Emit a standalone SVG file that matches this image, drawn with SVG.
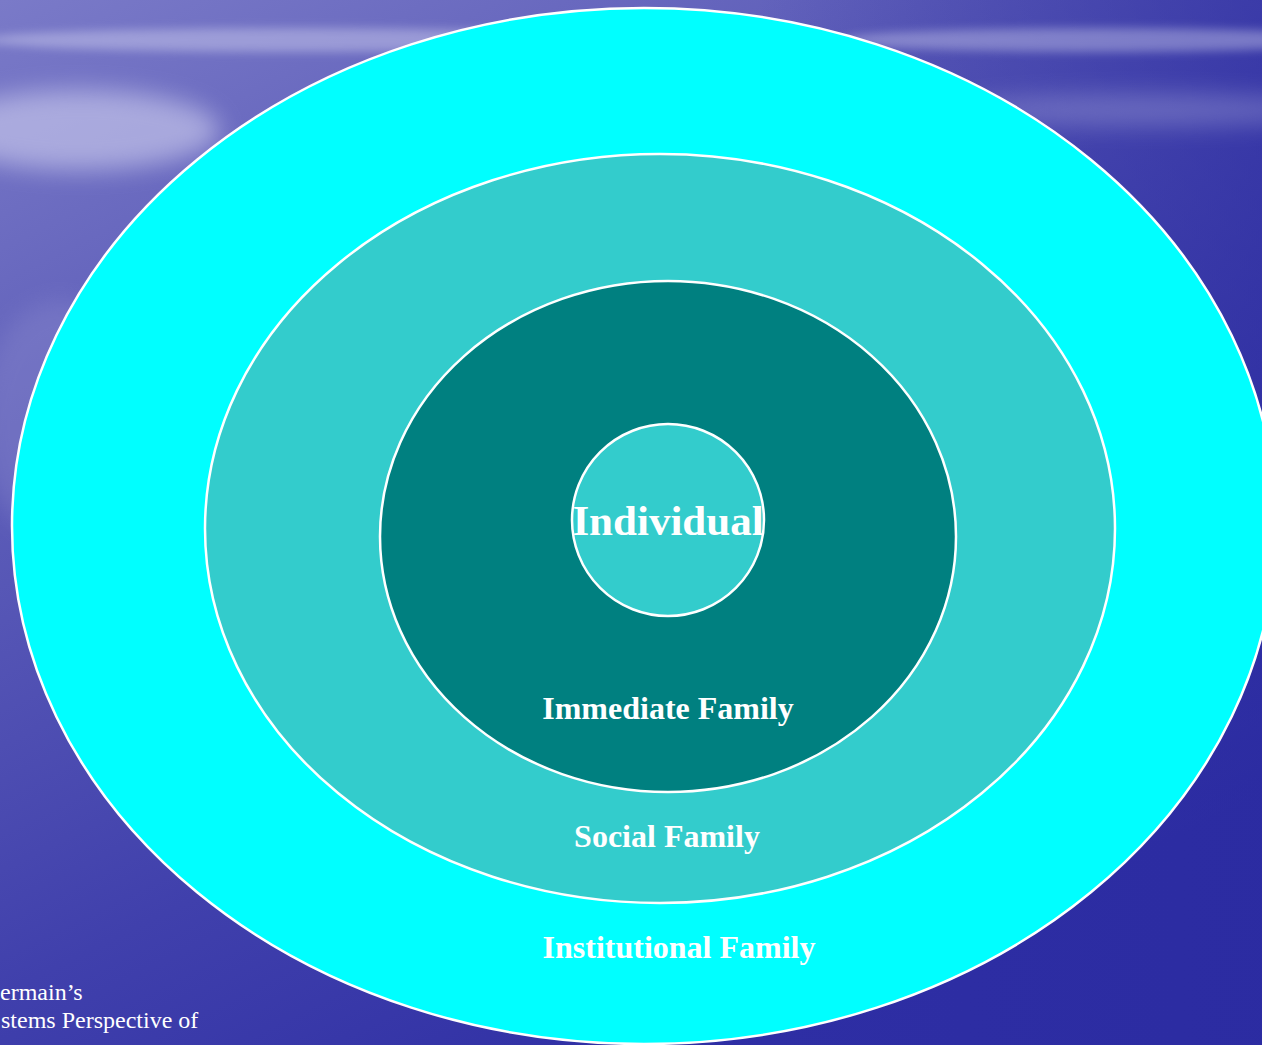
<svg xmlns="http://www.w3.org/2000/svg" width="1262" height="1045" viewBox="0 0 1262 1045">
  <defs>
    <linearGradient id="bg" x1="0" y1="0" x2="0.6" y2="1">
      <stop offset="0" stop-color="#7a7ac8"/>
      <stop offset="0.35" stop-color="#5c5cb8"/>
      <stop offset="0.7" stop-color="#4040ac"/>
      <stop offset="1" stop-color="#2e2ea4"/>
    </linearGradient>
    <linearGradient id="rightdark" x1="0" y1="0" x2="1" y2="0">
      <stop offset="0.6" stop-color="#2a2aa0" stop-opacity="0"/>
      <stop offset="1" stop-color="#2a2aa0" stop-opacity="0.6"/>
    </linearGradient>
    <filter id="blur" x="-20%" y="-200%" width="140%" height="500%">
      <feGaussianBlur stdDeviation="12"/>
    </filter>
    <filter id="blur2" x="-20%" y="-200%" width="140%" height="500%">
      <feGaussianBlur stdDeviation="5"/>
    </filter>
    <style>
      .ring { stroke: #ffffff; stroke-width: 2.5; }
      .lbl { font-family: "Liberation Serif", "Times New Roman", serif; font-weight: bold; fill: #ffffff; text-anchor: middle; }
      .note { font-family: "Liberation Serif", "Times New Roman", serif; fill: #ffffff; font-size: 24px; }
    </style>
  </defs>

  <g id="background">
    <rect x="0" y="0" width="1262" height="1045" fill="url(#bg)"/>
    <rect x="0" y="0" width="1262" height="1045" fill="url(#rightdark)"/>
    <ellipse cx="80" cy="130" rx="140" ry="40" fill="#d0d0f0" opacity="0.6" filter="url(#blur)"/>
    <ellipse cx="300" cy="40" rx="320" ry="12" fill="#c8c8ec" opacity="0.5" filter="url(#blur2)"/>
    <ellipse cx="1100" cy="40" rx="260" ry="12" fill="#b8b8e4" opacity="0.5" filter="url(#blur2)"/>
    <ellipse cx="1150" cy="110" rx="200" ry="16" fill="#a8a8dc" opacity="0.4" filter="url(#blur)"/>
    <ellipse cx="60" cy="420" rx="80" ry="120" fill="#9090d0" opacity="0.35" filter="url(#blur)"/>
  </g>

  <g id="institutional-family">
    <ellipse class="ring" cx="644" cy="526" rx="632" ry="518" fill="#00ffff"/>
    <text class="lbl" x="679" y="958" font-size="32">Institutional Family</text>
  </g>

  <g id="social-family">
    <ellipse class="ring" cx="660" cy="528.5" rx="455" ry="374.5" fill="#33cccc"/>
    <text class="lbl" x="667" y="847" font-size="32">Social Family</text>
  </g>

  <g id="immediate-family">
    <ellipse class="ring" cx="668" cy="536.5" rx="288" ry="255.5" fill="#008080"/>
    <text class="lbl" x="668" y="719" font-size="32">Immediate Family</text>
  </g>

  <g id="individual">
    <circle class="ring" cx="668" cy="520" r="96" fill="#33cccc"/>
    <text class="lbl" x="668" y="535" font-size="43">Individual</text>
  </g>

  <g id="connectors"/>

  <g id="caption">
    <text class="note" x="0" y="1000">ermain’s</text>
    <text class="note" x="1" y="1028">stems Perspective of</text>
  </g>
</svg>
